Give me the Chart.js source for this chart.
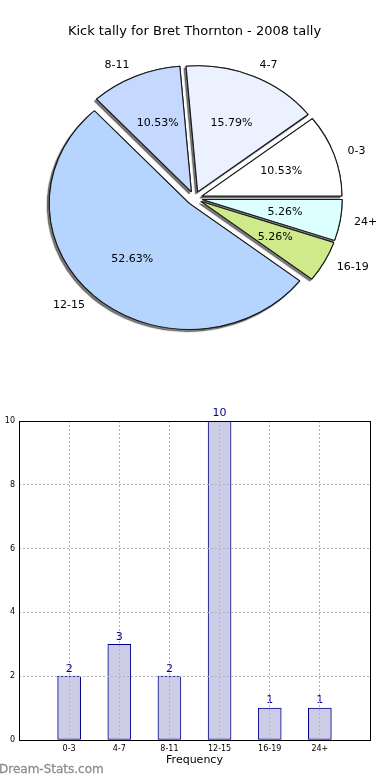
<!DOCTYPE html>
<html>
<head>
<meta charset="utf-8">
<title>Kick tally for Bret Thornton - 2008 tally</title>
<script src="https://cdn.jsdelivr.net/npm/chart.js@4.4.1/dist/chart.umd.min.js"></script>
<style>
  html, body { margin: 0; padding: 0; background: #fff; }
  #wrap { position: relative; width: 390px; height: 780px; overflow: hidden; }
  #pie { position: absolute; left: 0; top: 0; }
  #bars { position: absolute; left: 0; top: 400px; }
  #brand { position: absolute; left: -1px; top: 762px; font: 12px "DejaVu Sans", sans-serif; color: #8e8e8e; -webkit-text-stroke: 0.3px #8e8e8e; }
</style>
</head>
<body>
<div id="wrap">
  <canvas id="pie" width="390" height="380"></canvas>
  <canvas id="bars" width="390" height="380"></canvas>
  <div id="brand">Dream-Stats.com</div>
</div>
<script>
const TITLE = 'Kick tally for Bret Thornton - 2008 tally';
const categories = ['0-3', '4-7', '8-11', '12-15', '16-19', '24+'];
const kicks = [2, 3, 2, 10, 1, 1];
const sliceColors = ['#ffffff', '#ebf1ff', '#c5d8ff', '#b5d5ff', '#cfea8a', '#dcffff'];
const yTicks = [0, 2, 4, 6, 8, 10];
const X_TITLE = 'Frequency';
const Y_TITLE = 'Distribution';

// the original pie is a bit wider than tall
const PIE_SX = 140 / 126;
// every wedge is pulled out a little (matplotlib "explode")
const EXPLODE = 7;
const LABEL_COLOR = '#00008b';

Chart.defaults.font.family = '"DejaVu Sans", sans-serif';
Chart.defaults.color = '#000';

// matplotlib goes counter-clockwise, chart.js clockwise -> reverse
const pieLabels = categories.slice().reverse();
const pieValues = kicks.slice().reverse();
const pieColors = sliceColors.slice().reverse();
const total = kicks.reduce((a, b) => a + b, 0);

function midAngle(arc) {
    return (arc.startAngle + arc.endAngle) / 2;
}

const pieDeco = {
    id: 'pieDeco',
    beforeDatasetDraw(chart, args) {
        const ctx = chart.ctx;
        const arcs = args.meta.data;
        ctx.save();
        ctx.translate(arcs[0].x, arcs[0].y);
        ctx.scale(PIE_SX, 1);
        ctx.translate(-arcs[0].x, -arcs[0].y);
        // shadows first, then the wedges on top of them
        [true, false].forEach(shadow => {
            arcs.forEach(arc => {
                const mid = midAngle(arc);
                ctx.save();
                if (shadow) {
                    ctx.shadowColor = 'rgba(0, 0, 0, 0.5)';
                    ctx.shadowOffsetX = -2;
                    ctx.shadowOffsetY = 2;
                    ctx.shadowBlur = 1;
                }
                ctx.translate(Math.cos(mid) * EXPLODE, Math.sin(mid) * EXPLODE);
                arc.draw(ctx);
                ctx.restore();
            });
        });
        ctx.restore();
        return false;
    },
    afterDatasetsDraw(chart) {
        const ctx = chart.ctx;
        ctx.save();
        ctx.font = '11px "DejaVu Sans", sans-serif';
        ctx.fillStyle = '#000';
        ctx.textBaseline = 'middle';
        chart.getDatasetMeta(0).data.forEach((arc, i) => {
            const mid = midAngle(arc);
            const at = (f) => [
                arc.x + Math.cos(mid) * (EXPLODE + f * arc.outerRadius) * PIE_SX,
                arc.y + Math.sin(mid) * (EXPLODE + f * arc.outerRadius)
            ];
            const [lx, ly] = at(1.1);
            ctx.textAlign = Math.cos(mid) >= 0 ? 'left' : 'right';
            ctx.fillText(pieLabels[i], lx, ly);
            const [px, py] = at(0.6);
            ctx.textAlign = 'center';
            ctx.fillText((pieValues[i] / total * 100).toFixed(2) + '%', px, py);
        });
        ctx.restore();
    }
};

new Chart(document.getElementById('pie'), {
    type: 'pie',
    data: {
        labels: pieLabels,
        datasets: [{
            data: pieValues,
            backgroundColor: pieColors,
            borderColor: '#1a1a1a',
            borderWidth: 1
        }]
    },
    options: {
        responsive: false,
        animation: false,
        rotation: 90,
        radius: 126,
        layout: { padding: { top: 0, right: 1, bottom: 29, left: 0 } },
        plugins: {
            legend: { display: false },
            tooltip: { enabled: false },
            title: {
                display: true,
                text: TITLE,
                color: '#000',
                font: { size: 13, weight: 'normal', lineHeight: 1.2 },
                padding: { top: 24, bottom: 6 }
            }
        }
    },
    plugins: [pieDeco]
});

const barDeco = {
    id: 'barDeco',
    afterDatasetsDraw(chart) {
        const ctx = chart.ctx;
        ctx.save();
        ctx.font = '11px "DejaVu Sans", sans-serif';
        ctx.fillStyle = LABEL_COLOR;
        ctx.textAlign = 'center';
        ctx.textBaseline = 'bottom';
        chart.getDatasetMeta(0).data.forEach((bar, i) => {
            ctx.fillText(String(kicks[i]), bar.x, bar.y - 2);
        });
        ctx.restore();
    },
    afterDraw(chart) {
        const ctx = chart.ctx;
        const a = chart.chartArea;
        ctx.save();
        ctx.strokeStyle = '#000';
        ctx.lineWidth = 1;
        ctx.strokeRect(Math.round(a.left) + 0.5, Math.round(a.top) + 0.5,
            Math.round(a.right - a.left), Math.round(a.bottom - a.top));
        // y title sits mostly outside the picture in the original
        ctx.translate(-3, (a.top + a.bottom) / 2);
        ctx.rotate(-Math.PI / 2);
        ctx.font = '11px "DejaVu Sans", sans-serif';
        ctx.fillStyle = '#000';
        ctx.textAlign = 'center';
        ctx.textBaseline = 'bottom';
        ctx.fillText(Y_TITLE, 0, 6);
        ctx.restore();
    }
};

new Chart(document.getElementById('bars'), {
    type: 'bar',
    data: {
        datasets: [{
            data: kicks.map((v, i) => ({ x: i + 1, y: v })),
            backgroundColor: '#ccccE6',
            borderColor: '#00008b',
            borderWidth: 1,
            borderSkipped: false,
            barThickness: 23
        }]
    },
    options: {
        responsive: false,
        animation: false,
        layout: { padding: { top: 21, right: 20, bottom: 0, left: 0 } },
        plugins: { legend: { display: false }, tooltip: { enabled: false } },
        scales: {
            x: {
                type: 'linear',
                min: 0,
                max: categories.length + 1,
                offset: false,
                afterFit: (s) => { s.height = 40; },
                ticks: {
                    stepSize: 1,
                    autoSkip: false,
                    maxRotation: 0,
                    padding: 4,
                    font: { size: 8 },
                    callback: (v) => categories[v - 1] || ''
                },
                grid: { color: '#b4b4b4', drawTicks: false, offset: false, z: 1 },
                border: { display: false, dash: [2, 2] },
                title: {
                    display: true,
                    text: X_TITLE,
                    font: { size: 11 },
                    padding: { top: 0, bottom: 13 }
                }
            },
            y: {
                min: yTicks[0],
                max: yTicks[yTicks.length - 1],
                afterFit: (s) => { s.width = 19; },
                afterBuildTicks: (s) => { s.ticks = yTicks.map(v => ({ value: v })); },
                ticks: { padding: 4, font: { size: 8 } },
                grid: { color: '#b4b4b4', drawTicks: false, z: 1 },
                border: { display: false, dash: [2, 2] }
            }
        }
    },
    plugins: [barDeco]
});
</script>
</body>
</html>
